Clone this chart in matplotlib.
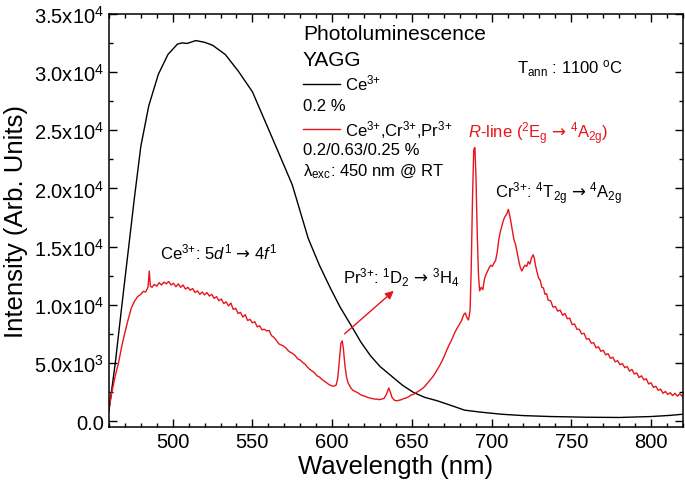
"""Photoluminescence spectra of YAGG:Ce and YAGG:Ce,Cr,Pr."""

import matplotlib
matplotlib.use("Agg")
import matplotlib.pyplot as plt
import numpy as np
from matplotlib.lines import Line2D
from matplotlib.ticker import FuncFormatter, MultipleLocator

plt.rcParams["font.family"] = ["Liberation Sans", "DejaVu Sans"]
plt.rcParams["mathtext.fontset"] = "custom"
plt.rcParams["mathtext.rm"] = "Liberation Sans"
plt.rcParams["mathtext.it"] = "Liberation Sans:italic"
plt.rcParams["mathtext.bf"] = "Liberation Sans:bold"
plt.rcParams["mathtext.sf"] = "DejaVu Sans"
plt.rcParams["mathtext.default"] = "regular"

# Ce3+ 0.2 % (black)
ce_wl = [460, 464, 468, 472, 476, 480, 485, 491, 497, 503, 506, 509, 514.5,
         520, 525, 533, 541, 550, 558, 566, 575, 585, 592, 599, 605, 612,
         618, 624, 630, 637, 644, 651, 658, 666, 674, 683, 693, 706, 720,
         737, 760, 780, 800, 812, 820]
ce_int = [900, 5000, 9800, 14500, 19200, 23600, 27100, 29800, 31500, 32400,
          32500, 32450, 32700, 32550, 32300, 31500, 30100, 28300, 25750,
          23200, 20300, 15700, 13400, 11400, 9800, 8200, 6800, 5630, 4700,
          3900, 3100, 2470, 2050, 1750, 1380, 950, 780, 600, 480, 400, 340,
          320, 400, 500, 600]

# Ce3+,Cr3+,Pr3+ 0.2/0.63/0.25 % (red)
red_wl = [460, 462, 464, 466, 468, 470, 472, 474, 476, 478, 480, 481.5, 483,
          484.5, 485.3, 486, 487, 488.5, 490, 491.5, 493, 494.5, 496, 497.5,
          499, 500.5, 502, 503.5, 505, 506.5, 508, 509.5, 511, 512.5, 514,
          515.5, 517, 518.5, 520, 521.5, 523, 524.5, 526, 527.5, 529, 530.5,
          532, 533.5, 535, 536.5, 538, 539.5, 541, 542.5, 544, 545.5, 547,
          548.5, 550, 551.5, 553, 554.5, 556, 557.5, 559, 560.5, 562, 563.5,
          565, 566.5, 568, 569.5, 571, 572.5, 574, 575.5, 577, 578.5, 580,
          581.5, 583, 584.5, 586, 587.5, 589, 590.5, 592, 593.5, 595, 596.5,
          598, 599.5, 601, 602.5, 603.5, 604.5, 605.5, 606.3, 607, 608, 609,
          610, 611.5, 613, 614.5, 616, 617.5, 619, 620.5, 622, 623.5, 625,
          626.5, 628, 629.5, 631, 632.5, 634, 635.5, 636.5, 637.5, 639,
          640.5, 642, 643.5, 645, 646.5, 648, 649.5, 651, 652.5, 654, 655.5,
          657, 658.5, 660, 661.5, 663, 664.5, 666, 667.5, 669, 670.5, 672,
          673.5, 675, 676.5, 678, 679.5, 681, 682.5, 683.5, 684.5, 685.5,
          686.5, 687.2, 688, 688.8, 689.5, 690.2, 691, 691.8, 692.5, 693.5,
          694.5, 695.5, 696.5, 697.5, 698.5, 699.5, 700.5, 701.5, 702.5,
          703.5, 704.5, 705.5, 706.5, 707.5, 708.5, 709.5, 710.5, 711.3, 712,
          713, 714, 715, 716, 717, 718, 719, 720, 721, 722, 723, 724, 725,
          726, 726.8, 727.5, 728.5, 729.5, 730.5, 731.5, 732.5, 733.5, 734.5,
          735.5, 737, 738.5, 740, 741.5, 743, 744.5, 746, 747.5, 749, 750.5,
          752, 753.5, 755, 756.5, 758, 759.5, 761, 762.5, 764, 765.5, 767,
          768.5, 770, 771.5, 773, 774.5, 776, 777.5, 779, 780.5, 782, 783.5,
          785, 786.5, 788, 789.5, 791, 792.5, 794, 795.5, 797, 798.5, 800,
          801.5, 803, 804.5, 806, 807.5, 809, 810.5, 812, 813.5, 815, 816.5,
          818, 819.5]
red_int = [1000, 2600, 3900, 5000, 6400, 7600, 8700, 9700, 10300, 10700,
           10900, 11150, 11100, 11500, 12900, 11600, 11500, 11750, 11600,
           11900, 11700, 11950, 11800, 12000, 11700, 11850, 11550, 11800,
           11500, 11700, 11350, 11500, 11250, 11400, 11050, 11200, 10900,
           11100, 10850, 11050, 10750, 10900, 10550, 10700, 10350, 10500,
           10100, 10250, 9900, 10150, 9600, 9700, 9250, 9350, 8950, 9150,
           8650, 8750, 8450, 8550, 8100, 8200, 7850, 7900, 7750, 7800, 7350,
           7200, 6950, 6650, 6550, 6450, 6300, 6050, 5900, 5800, 5600, 5350,
           5250, 5050, 4900, 4650, 4450, 4300, 4150, 3900, 3800, 3600, 3450,
           3300, 3150, 3050, 3000, 3100, 3700, 5200, 6700, 6900, 6300, 4800,
           3800, 3300, 2900, 2650, 2550, 2450, 2300, 2200, 2150, 2050, 2000,
           1950, 1900, 1900, 1850, 1900, 1950, 2300, 2850, 2500, 2050, 1800,
           1750, 1800, 1850, 1950, 2000, 2100, 2250, 2300, 2450, 2550, 2700,
           2850, 3050, 3300, 3550, 3800, 4100, 4450, 4800, 5200, 5650, 6150,
           6600, 7000, 7500, 7900, 8250, 8600, 9150, 9300, 8900, 8700, 9500,
           13000, 19000, 23300, 23500, 21000, 16000, 12500, 11200, 11500,
           11300, 12200, 12600, 12900, 13200, 13400, 13300, 13600, 13800,
           14500, 15600, 16300, 16800, 17300, 17600, 17800, 18200, 17700,
           17200, 16400, 15600, 15200, 14500, 13800, 13200, 12900, 13200,
           13400, 13300, 13700, 13500, 14000, 14300, 14000, 13400, 12800,
           12300, 12100, 11500, 11450, 10900, 10950, 10400, 10350, 9800, 9850,
           9450, 9550, 9100, 9250, 8800, 8850, 8300, 8350, 7900, 7900, 7500,
           7550, 7050, 7100, 6700, 6750, 6300, 6400, 6000, 6100, 5700, 5800,
           5400, 5500, 5100, 5200, 4850, 4950, 4600, 4700, 4300, 4450, 4050,
           4150, 3750, 3900, 3550, 3650, 3200, 3300, 2900, 3000, 2650, 2750,
           2400, 2550, 2300, 2450, 2200, 2400, 2150, 2350, 2150]

RED = "#e8141c"
ARROW = r"$\mathsf{→}$"
ION = r"$^{3\text{+}}$"


def sci_label(value, _pos):
    if value < 0:
        return ""
    if value == 0:
        return "0.0"
    exponent = int(np.floor(np.log10(value)))
    mantissa = value / 10 ** exponent
    return f"{mantissa:.1f}x10$^{{{exponent}}}$"


fig = plt.figure(figsize=(6.85, 4.85), dpi=100)
ax = fig.add_axes([0.159, 0.1175, 0.838, 0.852])

ax.plot(ce_wl, ce_int, color="black", lw=1.0)
ax.plot(red_wl, red_int, color=RED, lw=1.0)

ax.set_xlim(460, 820)
ax.set_ylim(-500, 35000)
ax.xaxis.set_major_locator(MultipleLocator(50))
ax.xaxis.set_minor_locator(MultipleLocator(10))
ax.yaxis.set_major_locator(MultipleLocator(5000))
ax.yaxis.set_minor_locator(MultipleLocator(2500))
ax.yaxis.set_major_formatter(FuncFormatter(sci_label))
ax.tick_params(which="both", direction="in", top=True, right=True,
               labelsize=14.5, width=1.0)
ax.tick_params(which="major", length=6)
ax.tick_params(which="minor", length=3)
for spine in ax.spines.values():
    spine.set_linewidth(1.1)

ax.set_xlabel("Wavelength (nm)", fontsize=18.5, labelpad=2)
ax.set_ylabel("Intensity (Arb. Units)", fontsize=18.5, labelpad=4)

# legend block
tr = ax.transAxes
ax.text(0.338, 0.938, "Photoluminescence", transform=tr, fontsize=15)
ax.text(0.338, 0.875, "YAGG", transform=tr, fontsize=15)
ax.add_line(Line2D([0.338, 0.402], [0.8305, 0.8305], transform=tr,
                   color="black", lw=1.0))
ax.text(0.411, 0.818, "Ce" + ION, transform=tr, fontsize=12)
ax.text(0.338, 0.768, "0.2 %", transform=tr, fontsize=12)
ax.add_line(Line2D([0.338, 0.402], [0.7215, 0.7215], transform=tr,
                   color=RED, lw=1.0))
ax.text(0.411, 0.705, f"Ce{ION},Cr{ION},Pr{ION}", transform=tr, fontsize=12)
ax.text(0.338, 0.661, "0.2/0.63/0.25 %", transform=tr, fontsize=12)
ax.text(0.338, 0.6085, "λ$_{exc}$: 450 nm @ RT", transform=tr, fontsize=12)

# annotations
ax.text(0.711, 0.857, "T$_{ann}$ : 1100 $^{o}$C", transform=tr, fontsize=12)
ax.text(0.625, 0.701,
        rf"$\mathit{{R}}$-line ($^{{2}}$E$_{{g}}$ {ARROW} $^{{4}}$A$_{{2g}}$)",
        transform=tr, fontsize=12, color=RED)
ax.text(0.672, 0.556,
        f"Cr{ION}: $^{{4}}$T$_{{2g}}$ {ARROW} $^{{4}}$A$_{{2g}}$",
        transform=tr, fontsize=12)
ax.text(0.089, 0.407,
        rf"Ce{ION}: 5$\mathit{{d}}^{{1}}$ {ARROW} 4$\mathit{{f}}^{{1}}$",
        transform=tr, fontsize=12)
ax.text(0.408, 0.350,
        f"Pr{ION}: $^{{1}}$D$_{{2}}$ {ARROW} $^{{3}}$H$_{{4}}$",
        transform=tr, fontsize=12)
ax.annotate("", xy=(638.6, 11200), xytext=(607.8, 7500),
            arrowprops=dict(arrowstyle="-|>", color=RED, lw=1.0,
                            mutation_scale=12, shrinkA=0, shrinkB=0))

fig.savefig("out.png", dpi=100)
